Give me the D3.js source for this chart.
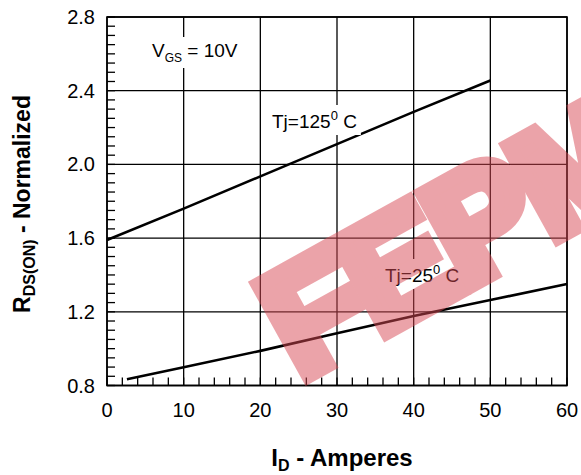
<!DOCTYPE html>
<html>
<head>
<meta charset="utf-8">
<script src="https://cdn.jsdelivr.net/npm/d3@7"></script>
<style>
  body { margin: 0; background: #fff; }
  svg { display: block; font-family: Arial, "Liberation Sans", sans-serif; }
</style>
</head>
<body>
<svg id="chart" width="581" height="475"></svg>
<script>
// values
var id125 = [0, 10, 20, 30, 40, 50];
var rds125 = [1.59, 1.76, 1.935, 2.11, 2.285, 2.455];
var id25 = [2.6, 10, 20, 30, 40, 50, 60];
var rds25 = [0.834, 0.899, 0.988, 1.083, 1.177, 1.264, 1.351];
var xTicks = [0, 10, 20, 30, 40, 50, 60];
var yTicks = [0.8, 1.2, 1.6, 2.0, 2.4, 2.8];

var svg = d3.select("#chart");

var plotLeft = 107, plotRight = 567, plotTop = 17, plotBottom = 385.5;

var x = d3.scaleLinear().domain([0, 60]).range([plotLeft, plotRight]);
var y = d3.scaleLinear().domain([0.8, 2.8]).range([plotBottom, plotTop]);

// grid
var grid = svg.append("g").attr("stroke", "#000").attr("stroke-width", 1.3);
grid.selectAll("line.gx").data(xTicks).enter().append("line")
  .attr("x1", function(d) { return x(d); }).attr("x2", function(d) { return x(d); })
  .attr("y1", plotTop).attr("y2", plotBottom);
grid.selectAll("line.gy").data(yTicks).enter().append("line")
  .attr("x1", plotLeft).attr("x2", plotRight)
  .attr("y1", function(d) { return y(d); }).attr("y2", function(d) { return y(d); });

// minor ticks, pointing inside
var xMinor = d3.range(0, 60.01, 2);
var yMinor = d3.range(0.8, 2.801, 0.05);
grid.selectAll("line.mx").data(xMinor).enter().append("line")
  .attr("x1", function(d) { return x(d); }).attr("x2", function(d) { return x(d); })
  .attr("y1", plotBottom).attr("y2", plotBottom - 8);
grid.selectAll("line.my").data(yMinor).enter().append("line")
  .attr("x1", plotLeft).attr("x2", plotLeft + 8)
  .attr("y1", function(d) { return y(d); }).attr("y2", function(d) { return y(d); });

svg.append("rect")
  .attr("x", plotLeft).attr("y", plotTop)
  .attr("width", plotRight - plotLeft).attr("height", plotBottom - plotTop)
  .attr("fill", "none").attr("stroke", "#000").attr("stroke-width", 1.6);

// tick labels
svg.append("g").selectAll("text").data(xTicks).enter().append("text")
  .attr("x", function(d) { return x(d); })
  .attr("y", 417)
  .attr("text-anchor", "middle")
  .attr("font-size", 20)
  .text(function(d) { return d; });

svg.append("g").selectAll("text").data(yTicks).enter().append("text")
  .attr("x", 95)
  .attr("y", function(d) { return y(d) + 7; })
  .attr("text-anchor", "end")
  .attr("font-size", 20)
  .text(function(d) { return d.toFixed(1); });

// curves
var line = d3.line()
  .x(function(d) { return x(d[0]); })
  .y(function(d) { return y(d[1]); });

svg.append("path")
  .datum(d3.zip(id125, rds125))
  .attr("d", line)
  .attr("fill", "none").attr("stroke", "#000").attr("stroke-width", 2.6);

svg.append("path")
  .datum(d3.zip(id25, rds25))
  .attr("d", line)
  .attr("fill", "none").attr("stroke", "#000").attr("stroke-width", 2.6);

// labels with white boxes behind them
var addLabel = function(px, py, parts) {
  var g = svg.append("g");
  var bg = g.append("rect").attr("fill", "#fff");
  var t = g.append("text").attr("x", px).attr("y", py).attr("font-size", 19);
  parts.forEach(function(p) {
    t.append("tspan")
      .attr("font-size", p.size || 19)
      .attr("dy", p.dy || 0)
      .text(p.text);
  });
  var b = t.node().getBBox();
  bg.attr("x", b.x - 4).attr("y", b.y - 3)
    .attr("width", b.width + 8).attr("height", b.height + 6);
};

addLabel(152, 57, [
  { text: "V" },
  { text: "GS", size: 12, dy: 5 },
  { text: " = 10V", dy: -5 }
]);
addLabel(272, 128, [
  { text: "Tj=125" },
  { text: "0", size: 13, dy: -8 },
  { text: " C", dy: 8 }
]);
addLabel(385, 282, [
  { text: "Tj=25" },
  { text: "0", size: 13, dy: -8 },
  { text: " C", dy: 8 }
]);

// axis titles
var xt = svg.append("text")
  .attr("x", 342).attr("y", 466)
  .attr("text-anchor", "middle")
  .attr("font-weight", "bold").attr("font-size", 24);
xt.append("tspan").text("I");
xt.append("tspan").attr("font-size", 16).attr("dy", 5).text("D");
xt.append("tspan").attr("dy", -5).text(" - Amperes");

var yt = svg.append("text")
  .attr("transform", "translate(30,204) rotate(-90)")
  .attr("text-anchor", "middle")
  .attr("font-weight", "bold").attr("font-size", 23);
yt.append("tspan").text("R");
yt.append("tspan").attr("font-size", 16).attr("dy", 5).text("DS(ON)");
yt.append("tspan").attr("dy", -5).text(" - Normalized");

// watermark
svg.append("g").attr("opacity", 0.5)
  .append("text")
  .attr("transform", "translate(300,380) rotate(-29)")
  .attr("font-weight", "bold").attr("font-size", 150)
  .attr("letter-spacing", -2)
  .attr("fill", "#d94a55").attr("stroke", "#d94a55")
  .attr("stroke-width", 16).attr("stroke-linejoin", "miter")
  .text("FEPM");
</script>
</body>
</html>
